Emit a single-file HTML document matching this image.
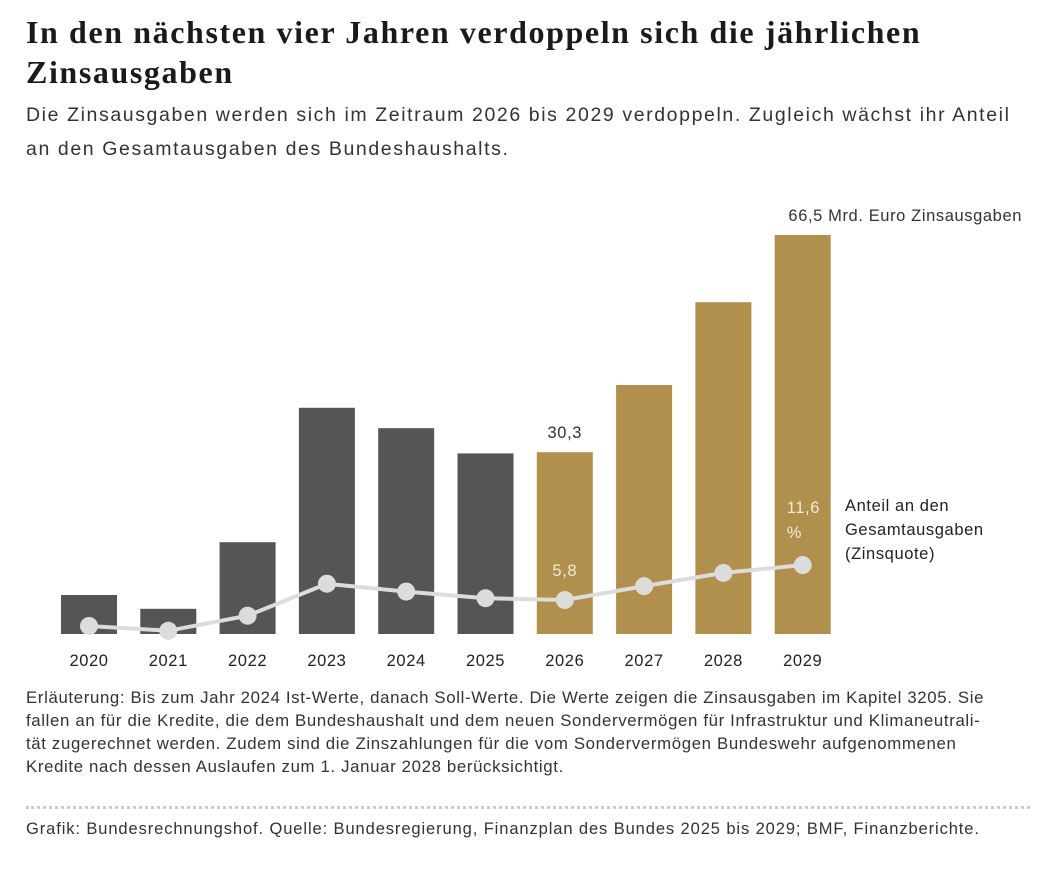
<!DOCTYPE html>
<html><head><meta charset="utf-8"><style>
body{margin:0;background:#fff;width:1048px;height:872px;overflow:hidden;font-family:"Liberation Sans",sans-serif;color:#222}
h1{position:absolute;left:26px;top:12px;margin:0;font:bold 32px/40px "Liberation Serif",serif;letter-spacing:1.6px;color:#1a1a1a;width:1000px;white-space:nowrap}
.sub{position:absolute;left:26px;top:98px;font-size:19.5px;letter-spacing:1.6px;line-height:34px;color:#333;width:1010px}
.note{position:absolute;left:26px;top:686px;font-size:16.8px;letter-spacing:0.65px;line-height:23px;color:#333;white-space:nowrap}
.sep{position:absolute;left:26px;top:806px;width:1004px;border-top:3px dotted #ccc}
.src{position:absolute;left:26px;top:820px;font-size:16.5px;letter-spacing:0.9px;color:#333;white-space:nowrap}
svg{position:absolute;left:0;top:0}
svg text{letter-spacing:0.6px}
</style></head><body>
<h1>In den nächsten vier Jahren verdoppeln sich die jährlichen<br>Zinsausgaben</h1>
<div class="sub">Die Zinsausgaben werden sich im Zeitraum 2026 bis 2029 verdoppeln. Zugleich wächst ihr Anteil an den Gesamtausgaben des Bundeshaushalts.</div>
<svg id="chart" width="1048" height="680"></svg>
<div class="note">Erläuterung: Bis zum Jahr 2024 Ist-Werte, danach Soll-Werte. Die Werte zeigen die Zinsausgaben im Kapitel 3205. Sie<br>fallen an für die Kredite, die dem Bundeshaushalt und dem neuen Sondervermögen für Infrastruktur und Klimaneutrali-<br>tät zugerechnet werden. Zudem sind die Zinszahlungen für die vom Sondervermögen Bundeswehr aufgenommenen<br>Kredite nach dessen Auslaufen zum 1. Januar 2028 berücksichtigt.</div>
<div class="sep"></div>
<div class="src">Grafik: Bundesrechnungshof. Quelle: Bundesregierung, Finanzplan des Bundes 2025 bis 2029; BMF, Finanzberichte.</div>
<script>
const years=["2020","2021","2022","2023","2024","2025","2026","2027","2028","2029"];
const spending=[6.5,4.2,15.3,37.7,34.3,30.1,30.3,41.5,55.3,66.5];
const share=[1.5,0.7,3.2,8.5,7.2,6.1,5.8,8.1,10.3,11.6];
const forecastFrom=6;
const NS="http://www.w3.org/2000/svg";
const svg=document.getElementById('chart');
const base=634, scale=6.0;
const x=i=>89+i*79.3;
const yB=v=>base-v*scale;
const yL=v=>635-v*6.03;
function mk(t,a){const e=document.createElementNS(NS,t);for(const k in a)e.setAttribute(k,a[k]);svg.appendChild(e);return e;}
years.forEach((yr,i)=>{
 const r=mk('rect',{x:x(i)-28,y:yB(spending[i]),width:56,height:base-yB(spending[i]),fill:i>=forecastFrom?'#b0904c':'#555555'});
 
 
 const t=mk('text',{x:x(i),y:666,'text-anchor':'middle','font-size':16.5,fill:'#222','font-family':'Liberation Sans'});
 t.textContent=yr;
 
 
});
const pl=mk('polyline',{points:share.map((v,i)=>x(i)+','+yL(v)).join(' '),fill:'none',stroke:'#dcdcdc','stroke-width':4});


share.forEach((v,i)=>{
 const c=mk('circle',{cx:x(i),cy:yL(v),r:9,fill:'#dcdcdc'});
 
 
});
function lab(txt,xx,yy,fill,anchor,name){const t=mk('text',{x:xx,y:yy,'text-anchor':anchor||'middle','font-size':16.5,fill:fill,'font-family':'Liberation Sans'});t.textContent=txt;return t;}
lab(String(spending[6]).replace('.',','),x(6),yB(spending[6])-14,'#333','middle','value-label-2026');
lab(String(spending[9]).replace('.',',')+' Mrd. Euro Zinsausgaben',1022,yB(spending[9])-14,'#333','end','value-label-2029');
lab(String(share[6]).replace('.',','),x(6),yL(share[6])-24,'#f3ead8','middle','share-label-2026');
lab(String(share[9]).replace('.',','),x(9)-16,yL(share[9])-52,'#f3ead8','start','share-label-2029');
lab('%',x(9)-16,yL(share[9])-27,'#f3ead8','start','share-label-percent');
lab('Anteil an den',845,511,'#222','start','legend-line-1');
lab('Gesamtausgaben',845,535,'#222','start','legend-line-2');
lab('(Zinsquote)',845,559,'#222','start','legend-line-3');
</script>
</body></html>
